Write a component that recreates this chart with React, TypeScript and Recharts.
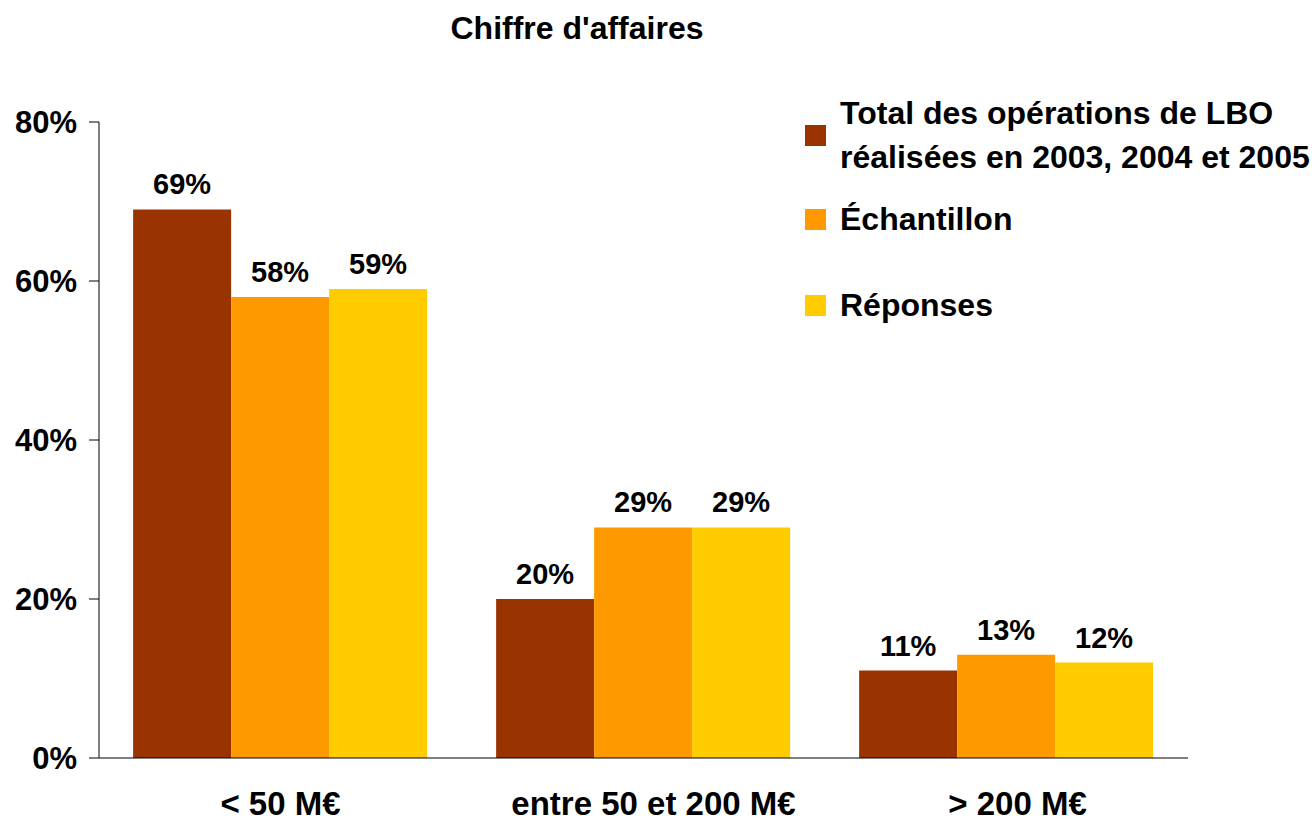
import React from 'react';
import { BarChart, Bar, XAxis, YAxis, Legend, LabelList } from 'recharts';

const categories = ['< 50 M€', 'entre 50 et 200 M€', '> 200 M€'];
const seriesNames = [
  'Total des opérations de LBO\nréalisées en 2003, 2004 et 2005',
  'Échantillon',
  'Réponses',
];
const totalLbo = [69, 20, 11];
const echantillon = [58, 29, 13];
const reponses = [59, 29, 12];
const yTicks = [0, 20, 40, 60, 80];
const boundaryTicks = [0, 1, 2, 3];
const colors = ['#993300', '#FF9900', '#FFCC00'];
const title = "Chiffre d'affaires";

const data = categories.map((c, i) => ({
  category: c,
  pos: i + 0.5,
  s0: totalLbo[i],
  s1: echantillon[i],
  s2: reponses[i],
}));

const FONT = '"Liberation Sans", Arial, Helvetica, sans-serif';
const pct = (v: any) => `${v}%`;
const catShift = [0, 10, 11];

const renderLegend = (props: any) => {
  const payload = [...(props.payload || [])].sort(
    (a: any, b: any) => seriesNames.indexOf(a.value) - seriesNames.indexOf(b.value)
  );
  const tops = [0, 106, 192];
  const heights = [88, 44, 44];
  return (
    <div style={{ position: 'relative', width: 500, height: 240, fontFamily: FONT }}>
      {payload.map((entry: any, i: number) => (
        <div
          key={i}
          style={{
            position: 'absolute',
            left: 0,
            top: tops[i],
            height: heights[i],
            display: 'flex',
            alignItems: 'center',
          }}
        >
          <div style={{ width: 21, height: 21, background: entry.color, marginRight: 14, flex: 'none' }} />
          <div
            style={{
              whiteSpace: 'pre',
              fontSize: 32,
              fontWeight: 'bold',
              lineHeight: '44px',
              color: '#000',
            }}
          >
            {entry.value}
          </div>
        </div>
      ))}
    </div>
  );
};

const CatTick = (props: any) => {
  const { x, y, payload, index } = props;
  const shift = catShift[index] ?? 0;
  return (
    <text x={x + shift} y={y} dy="0.71em" textAnchor="middle" fill="#000" fontSize={33} fontWeight="bold">
      {payload.value}
    </text>
  );
};

const labelStyle = { fill: '#000', fontSize: 29, fontWeight: 'bold' as const };

export default function App() {
  const seriesKeys = ['s0', 's1', 's2'];
  return (
    <div style={{ position: 'absolute', left: 0, top: 0, width: 1312, height: 819, fontFamily: FONT, background: '#fff' }}>
      <div
        style={{
          position: 'absolute',
          left: 377,
          top: 12,
          width: 400,
          textAlign: 'center',
          fontSize: 32,
          lineHeight: '32px',
          fontWeight: 'bold',
          color: '#000',
        }}
      >
        {title}
      </div>
      <BarChart
        width={1312}
        height={819}
        data={data}
        margin={{ top: 122, right: 124, bottom: 0, left: 0 }}
        barCategoryGap="9.4%"
        barGap={0}
      >
        <XAxis
          xAxisId="bounds"
          dataKey="pos"
          type="number"
          domain={[0, 3]}
          ticks={boundaryTicks}
          tick={false}
          tickSize={10}
          height={1}
          stroke="#000"
          allowDataOverflow
        />
        <XAxis
          xAxisId="cat"
          dataKey="category"
          type="category"
          height={60}
          tickLine={false}
          axisLine={false}
          tickSize={0}
          tickMargin={33}
          interval={0}
          tick={<CatTick />}
        />
        <YAxis
          width={99}
          domain={[0, 80]}
          ticks={yTicks}
          tickFormatter={pct}
          tickSize={10}
          tickMargin={12}
          stroke="#000"
          tick={{ fill: '#000', fontSize: 31, fontWeight: 'bold' }}
        />
        {seriesKeys.map((k, i) => (
          <Bar key={k} xAxisId="cat" dataKey={k} name={seriesNames[i]} fill={colors[i]} isAnimationActive={false}>
            <LabelList dataKey={k} position="top" offset={15} formatter={pct} style={labelStyle} />
          </Bar>
        ))}
        <Legend
          layout="horizontal"
          verticalAlign="middle"
          align="center"
          content={renderLegend}
          wrapperStyle={{ left: 805, top: 91, width: 500, height: 240 }}
        />
      </BarChart>
    </div>
  );
}
